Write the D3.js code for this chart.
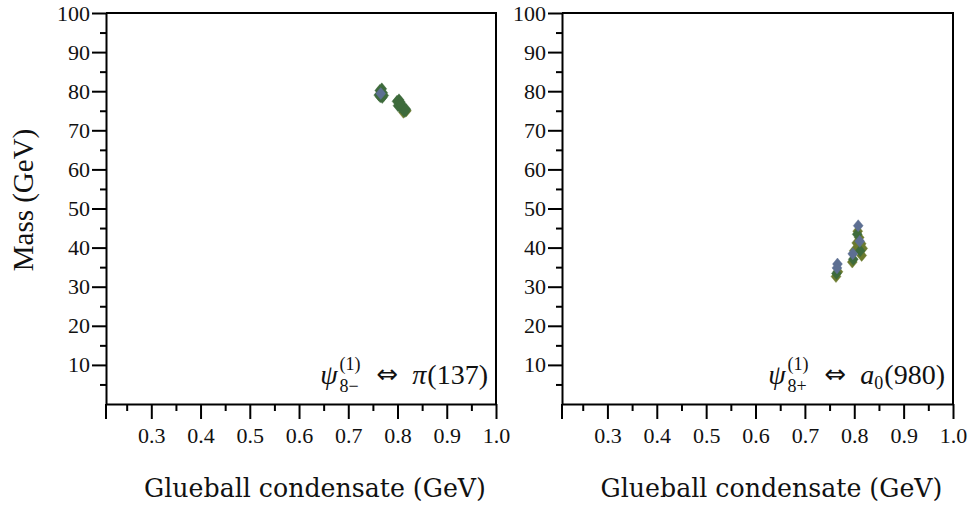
<!DOCTYPE html>
<html>
<head>
<meta charset="utf-8">
<script src="https://cdn.jsdelivr.net/npm/d3@7"></script>
<style>
  html, body { margin: 0; padding: 0; background: #fff; }
  svg { display: block; }
</style>
</head>
<body>
<svg id="chart" width="975" height="512"></svg>
<script>
// Axis ticks
const xMajorTicks = [0.3, 0.4, 0.5, 0.6, 0.7, 0.8, 0.9, 1.0];
const xMinorTicks = [0.25, 0.35, 0.45, 0.55, 0.65, 0.75, 0.85, 0.95];
const yMajorTicks = [10, 20, 30, 40, 50, 60, 70, 80, 90, 100];
const yMinorTicks = [5, 15, 25, 35, 45, 55, 65, 75, 85, 95];

// Scan points [glueball condensate (GeV), mass (GeV)] per series
const piOlive = [[0.812, 74.6], [0.818, 75.0]];
const piGreen = [[0.762, 79.0], [0.764, 80.2], [0.768, 80.6], [0.770, 79.6],
                 [0.769, 78.4], [0.765, 78.6], [0.772, 78.9],
                 [0.799, 77.4], [0.803, 77.8], [0.806, 77.2], [0.801, 76.3],
                 [0.805, 76.0], [0.809, 75.8], [0.812, 75.2], [0.815, 74.8],
                 [0.808, 76.6], [0.817, 75.4]];
const piBlue  = [[0.766, 79.4]];

const a0Olive = [[0.763, 32.6], [0.767, 33.8], [0.796, 36.3], [0.800, 39.2],
                 [0.807, 44.2], [0.810, 42.6], [0.814, 41.0], [0.817, 39.8],
                 [0.815, 38.0], [0.809, 40.2], [0.805, 41.2]];
const a0Green = [[0.764, 33.4], [0.798, 37.0], [0.806, 43.4], [0.812, 39.2]];
const a0Blue  = [[0.766, 35.8], [0.765, 34.8], [0.808, 45.6], [0.811, 41.6],
                 [0.797, 38.4]];

const xDomain = [0.208, 1.0];
const yDomain = [0, 100];

const seriesColors = { blue: "#5d6f92", green: "#3e6b3c", olive: "#6b7a2e" };

const panels = [
  { left: 106, right: 496, sub: "8−", particle: "π", particleSub: "", tail: "(137)",
    series: [["olive", piOlive], ["green", piGreen], ["blue", piBlue]] },
  { left: 562, right: 953, sub: "8+", particle: "a", particleSub: "0", tail: "(980)",
    series: [["olive", a0Olive], ["green", a0Green], ["blue", a0Blue]] }
];

const plotTop = 13, plotBottom = 404;
const svg = d3.select("#chart");
const serif = '"Liberation Serif", "Times New Roman", serif';

// Diamond marker, slightly taller than wide
const diamond = {
  draw(ctx, size) {
    const s = Math.sqrt(size), w = s * 0.62, h = s * 0.75;
    ctx.moveTo(0, -h); ctx.lineTo(w, 0); ctx.lineTo(0, h); ctx.lineTo(-w, 0); ctx.closePath();
  }
};
const marker = d3.symbol().type(diamond).size(64);

// Lays out text pieces left to right, then shifts the run so it ends at xEnd.
// A piece with "stack" keeps the pen where it was, so the next piece sits under it.
function textRun(g, xEnd, baseline, pieces) {
  const run = g.append("g");
  let pen = 0, stackStart = null, stackW = 0;
  pieces.forEach(pc => {
    pen += pc.gap || 0;
    const t = run.append("text").attr("x", pen).attr("y", baseline + (pc.dy || 0))
      .style("font-family", pc.font || serif)
      .style("font-size", pc.size + "px").style("font-style", pc.italic ? "italic" : "normal")
      .attr("fill", "#111").text(pc.text);
    const w = t.node().getComputedTextLength();
    if (pc.stack) { stackStart = pen; stackW = w; }
    else if (stackStart !== null) { pen = stackStart + Math.max(stackW, w); stackStart = null; }
    else pen += w;
  });
  run.attr("transform", `translate(${xEnd - pen},0)`);
}

panels.forEach((p) => {
  const x = d3.scaleLinear().domain(xDomain).range([p.left, p.right]);
  const y = d3.scaleLinear().domain(yDomain).range([plotBottom, plotTop]);
  const g = svg.append("g");

  // frame: top and right edges
  g.append("path")
    .attr("d", `M${p.left},${plotTop}H${p.right}V${plotBottom}`)
    .attr("fill", "none").attr("stroke", "#000").attr("stroke-width", 2);

  // y axis
  const yAx = g.append("g").attr("transform", `translate(${p.left},0)`);
  yAx.call(d3.axisLeft(y).tickValues(yMajorTicks).tickSize(14).tickPadding(2).tickSizeOuter(0));
  yAx.append("g").call(d3.axisLeft(y).tickValues(yMinorTicks).tickSize(6).tickFormat("").tickSizeOuter(0))
    .select(".domain").remove();

  // x axis
  const xAx = g.append("g").attr("transform", `translate(0,${plotBottom})`);
  xAx.call(d3.axisBottom(x).tickValues(xMajorTicks).tickSize(15).tickPadding(8)
    .tickFormat(d3.format(".1f")).tickSizeOuter(0));
  xAx.append("g").call(d3.axisBottom(x).tickValues(xMinorTicks).tickSize(7).tickFormat("").tickSizeOuter(0))
    .select(".domain").remove();
  // left edge continues below the x axis
  g.append("line").attr("x1", p.left).attr("x2", p.left).attr("y1", plotBottom).attr("y2", plotBottom + 15)
    .attr("stroke", "#000").attr("stroke-width", 2);

  [yAx, xAx].forEach(a => {
    a.selectAll(".domain, line").attr("stroke", "#000").attr("stroke-width", 2);
    a.selectAll("text").style("font-family", serif).style("font-size", "22px").attr("fill", "#111");
  });

  // scan points
  p.series.forEach(([c, pts]) => {
    g.append("g").selectAll("path").data(pts).join("path")
      .attr("d", marker)
      .attr("transform", d => `translate(${x(d[0])},${y(d[1])})`)
      .attr("fill", seriesColors[c])
      .attr("stroke", seriesColors[c]).attr("stroke-width", 0.6).attr("stroke-opacity", 0.7);
  });

  // state correspondence label
  const pieces = [
    { text: "ψ", size: 28, italic: true },
    { text: "(1)", size: 18, dy: -14, stack: true, gap: 2 },
    { text: p.sub, size: 18, dy: 8 },
    { text: "⇔", size: 26, font: '"DejaVu Sans", sans-serif', dy: -1, gap: 16 },
    { text: p.particle, size: 28, italic: true, gap: 14 }
  ];
  if (p.particleSub) pieces.push({ text: p.particleSub, size: 18, dy: 5 });
  pieces.push({ text: p.tail, size: 28, gap: 1 });
  textRun(g, p.right - 8, 384, pieces);

  // x axis title
  const xt = g.append("text").attr("x", (p.left + p.right) / 2 + 14).attr("y", 497)
    .attr("text-anchor", "middle").style("font-family", '"DejaVu Serif", serif')
    .style("font-size", "22px").attr("fill", "#111").text("Glueball condensate (GeV)");
  const w = xt.node().getComputedTextLength();
  xt.style("font-size", (22 * 342 / w) + "px");
});

// y axis title
svg.append("text")
  .attr("transform", "translate(33,200) rotate(-90)")
  .attr("text-anchor", "middle").style("font-family", serif)
  .style("font-size", "29px").attr("fill", "#111").text("Mass (GeV)");
</script>
</body>
</html>
